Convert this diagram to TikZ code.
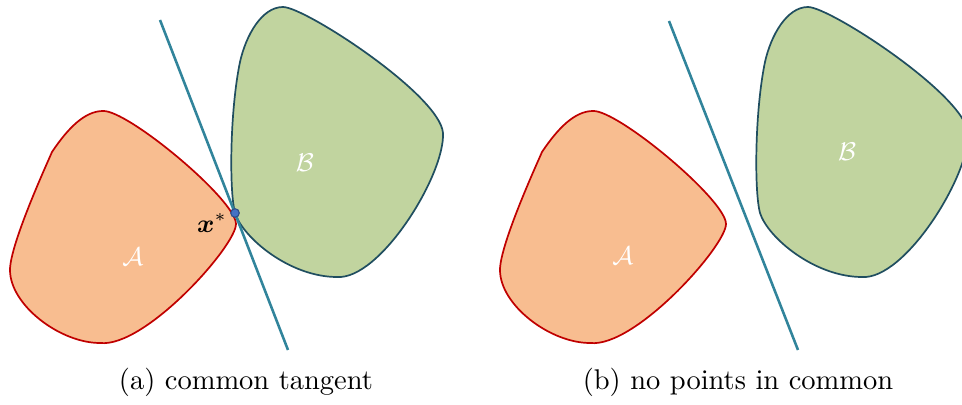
\documentclass[tikz,border=0pt]{standalone}
\usepackage{amsmath}
\usetikzlibrary{positioning}

\definecolor{setAfill}{RGB}{248,189,144}
\definecolor{setAdraw}{RGB}{192,0,0}
\definecolor{setBfill}{RGB}{193,212,159}
\definecolor{setBdraw}{RGB}{32,78,96}
\definecolor{tanline}{RGB}{49,132,155}
\definecolor{ptfill}{RGB}{68,114,196}

% outlines of the two sets, in pixel units
\newcommand{\shapeA}{(103,111) .. controls (128,110) and (236,200) .. (236,224)
    .. controls (236,246) and (145,348) .. (100,343)
    .. controls (60,343) and (10,305) .. (10,270)
    .. controls (10,245) and (45,168) .. (52,152)
    .. controls (68,128) and (85,111) .. cycle}
\newcommand{\shapeB}{(283,7) .. controls (305,7) and (440,95) .. (443,133)
    .. controls (445,175) and (380,280) .. (337,277)
    .. controls (290,277) and (243,238) .. (235,213)
    .. controls (229,190) and (230,110) .. (240,62)
    .. controls (246,35) and (262,7) .. cycle}

\begin{document}
\begin{tikzpicture}[
        x=0.351pt, y=-0.351pt,
        regionA/.style={fill=setAfill, draw=setAdraw, line width=0.6pt},
        regionB/.style={fill=setBfill, draw=setBdraw, line width=0.6pt},
        tangent/.style={draw=tanline, line width=0.9pt},
        setlabel/.style={text=white, font=\small},
        caption/.style={font=\normalsize},
    ]
    \useasboundingbox (0,0) rectangle (962,405);
    \clip (0,0) rectangle (962,405);

    % (a) sets touching in one point
    \draw[regionA] \shapeA;
    \draw[regionB] \shapeB;
    \node[setlabel] (labA1) at (133,257) {$\mathcal{A}$};
    \node[setlabel] (labB1) at (305,163) {$\mathcal{B}$};
    \coordinate (top1) at (160,20);
    \coordinate (bot1) at (288,350);
    \draw[tangent] (top1) -- (bot1);
    \node[circle, fill=ptfill, draw=ptfill!70!black, line width=0.4pt,
          inner sep=0pt, minimum size=3pt] (xstar) at (235,213) {};
    \node[font=\small] (xlab) at (212,223) {$\boldsymbol{x}^{*}$};
    \node[caption] (capa) at (246,382) {(a) common tangent};

    % (b) sets apart
    \begin{scope}[xshift=490*0.351pt]
    \draw[regionA] \shapeA;
    \end{scope}
    \begin{scope}[xshift=525*0.351pt]
    \draw[regionB] \shapeB;
    \end{scope}
    \node[setlabel] (labA2) at (623,256) {$\mathcal{A}$};
    \node[setlabel] (labB2) at (847,152) {$\mathcal{B}$};
    \coordinate (top2) at (669,21);
    \coordinate (bot2) at (798,350);
    \draw[tangent] (top2) -- (bot2);
    \node[caption] (capb) at (738,382) {(b) no points in common};
\end{tikzpicture}
\end{document}
